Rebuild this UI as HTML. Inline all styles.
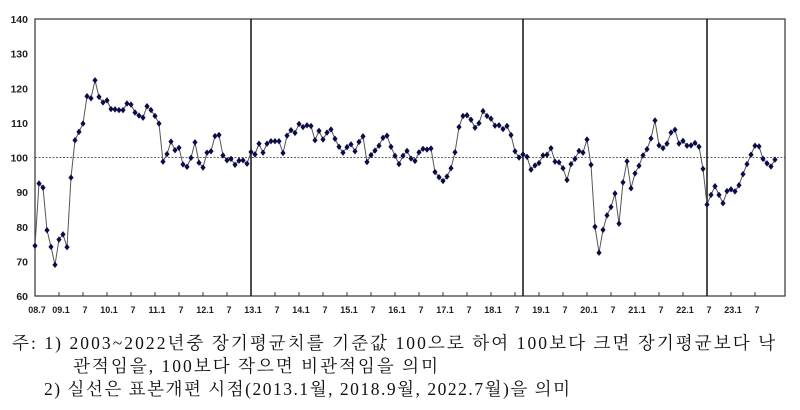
<!DOCTYPE html>
<html><head><meta charset="utf-8"><style>
body{margin:0;background:#fff;width:800px;height:410px;overflow:hidden}
svg{display:block}
</style></head><body>
<svg id="chart" width="800" height="410" xmlns="http://www.w3.org/2000/svg">
<g id="grid"></g><g id="marks"></g>
<g font-family="'Liberation Serif','Noto Serif CJK KR','Noto Serif CJK SC',serif" font-size="17.5" fill="#111">
<text x="12" y="349" textLength="763" lengthAdjust="spacing">주: 1) 2003~2022년중 장기평균치를 기준값 100으로 하여 100보다 크면 장기평균보다 낙</text>
<text x="73" y="372" textLength="365" lengthAdjust="spacing">관적임을, 100보다 작으면 비관적임을 의미</text>
<text x="44" y="395" textLength="526" lengthAdjust="spacing">2) 실선은 표본개편 시점(2013.1월, 2018.9월, 2022.7월)을 의미</text>
</g>
</svg>
<script>
const values=[74.5,92.5,91.3,79,74.2,69,76.3,77.8,74.1,94.2,105,107.4,109.8,117.7,117.1,122.3,117.5,115.9,116.5,114,113.9,113.7,113.7,115.6,115.3,113,112.1,111.5,114.8,113.7,112,109.8,98.8,101,104.6,102.1,102.8,98,97.3,99.9,104.4,98.5,97.1,101.4,101.8,106.2,106.5,100.6,99.2,99.6,97.9,99.1,99.2,98.2,101.6,100.9,104,101.4,104,104.7,104.7,104.7,101.3,106.3,107.9,107.1,109.7,108.8,109.3,109.1,105,107.7,105.2,107.2,108.1,105.4,103.1,101.4,103,103.8,101.8,104.5,106.1,98.7,100.7,102,103.4,105.7,106.3,103.1,100.5,98.1,100.5,101.9,99.7,99,101.5,102.5,102.3,102.6,95.8,94.3,93.2,94.5,96.9,101.5,108.8,112,112.2,110.9,108.6,109.9,113.4,112,111.2,109.2,109.3,108.2,109.1,106.5,101.8,100,100.9,100.2,96.5,97.7,98.4,100.6,100.8,102.7,98.8,98.6,96.9,93.5,98.1,99.6,101.9,101.4,105.2,97.9,80,72.5,79.1,83.3,85.7,89.6,80.9,92.8,98.9,91.1,95.4,97.6,100.6,102.4,105.5,110.7,103.5,102.7,104,107.2,108,104,104.8,103.4,103.5,104.2,103.1,96.7,86.4,89.2,91.7,89.2,86.8,90.3,90.8,90.2,92,95.2,98.1,100.8,103.4,103.2,99.6,98.3,97.4,99.4];
const yTicks=[60,70,80,90,100,110,120,130,140];
const xTickLabels=["08.7","09.1","7","10.1","7","11.1","7","12.1","7","13.1","7","14.1","7","15.1","7","16.1","7","17.1","7","18.1","7","19.1","7","20.1","7","21.1","7","22.1","7","23.1","7"];
const breakIdx=[54,122,168];
const baseline=100;
const NS="http://www.w3.org/2000/svg";
const L=35,R=785,T=19,B=296;
const x=i=>L+i*4;
const y=v=>B-(v-60)/80*(B-T);
const g=document.getElementById('grid'),m=document.getElementById('marks');
function mk(tag,at,par){const e=document.createElementNS(NS,tag);for(const k in at)e.setAttribute(k,at[k]);par.appendChild(e);return e;}
let e=mk('rect',{x:L,y:T,width:R-L,height:B-T,fill:'none',stroke:'#333','stroke-width':1.2},g);


yTicks.forEach(v=>{const t=mk('text',{x:28,y:y(v)+4,'text-anchor':'end','font-family':'Liberation Sans,sans-serif','font-size':10.5,'font-weight':'bold',fill:'#222'},g);t.textContent=v;

});
xTickLabels.forEach((s,k)=>{const i=k*6;mk('line',{x1:x(i),x2:x(i),y1:B,y2:B-4,stroke:'#333'},g);
const t=mk('text',{x:x(i)+2,y:313,'text-anchor':'middle','font-family':'Liberation Sans,sans-serif','font-size':9,'font-weight':'bold',fill:'#222'},g);t.textContent=s;

});
e=mk('line',{x1:L,x2:R,y1:y(baseline),y2:y(baseline),stroke:'#333','stroke-dasharray':'2,1.5','stroke-width':0.8},g);


breakIdx.forEach(i=>{const l=mk('line',{x1:x(i),x2:x(i),y1:T,y2:B,stroke:'#111','stroke-width':1.5},g);

});
e=mk('polyline',{points:values.map((v,i)=>x(i)+','+y(v)).join(' '),fill:'none',stroke:'#555','stroke-width':1},m);


values.forEach((v,i)=>{const cx=x(i),cy=y(v);const p=mk('polygon',{points:`${cx},${cy-3.2} ${cx+2.6},${cy} ${cx},${cy+3.2} ${cx-2.6},${cy}`,fill:'#0b0b4a'},m);

});
</script>
</body></html>
